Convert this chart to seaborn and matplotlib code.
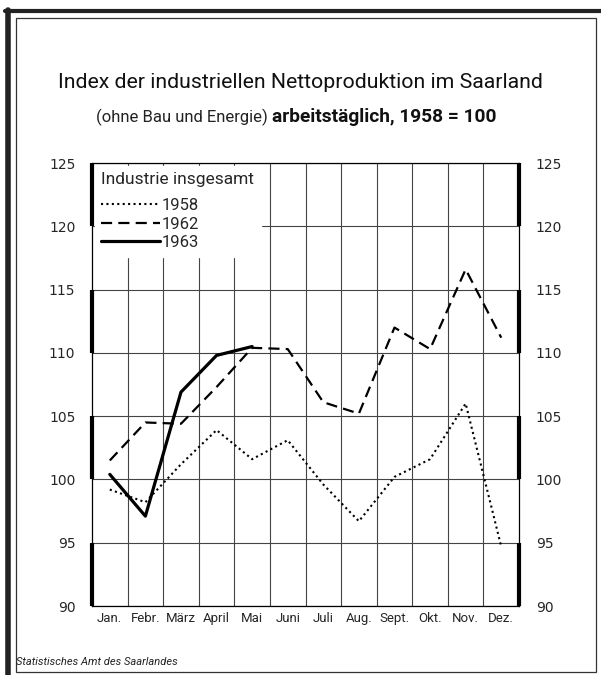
import pandas as pd
import numpy as np
import seaborn as sns
import matplotlib.pyplot as plt
from matplotlib.patches import Rectangle

months = ['Jan.', 'Febr.', 'März', 'April', 'Mai', 'Juni', 'Juli', 'Aug.', 'Sept.', 'Okt.', 'Nov.', 'Dez.']
idx_1958 = [99.2, 98.2, 101.2, 103.9, 101.6, 103.1, 99.6, 96.7, 100.2, 101.6, 106.0, 94.7]
idx_1962 = [101.5, 104.5, 104.4, 107.3, 110.4, 110.3, 106.1, 105.2, 112.0, 110.3, 116.6, 111.2]
idx_1963 = [100.4, 97.1, 106.9, 109.8, 110.5]
y_ticks = [90, 95, 100, 105, 110, 115, 120, 125]
thick_bands = [(90, 95), (100, 105), (110, 115), (120, 125)]

sns.set_theme(style='white')
narrow = ['Roboto', 'DejaVu Sans']
plt.rcParams['font.family'] = narrow

rows = []
for yr, vals in [('1958', idx_1958), ('1962', idx_1962), ('1963', idx_1963)]:
    for i, v in enumerate(vals):
        rows.append({'pos': i, 'wert': v, 'jahr': yr})
df = pd.DataFrame(rows)

fig = plt.figure(figsize=(6.01, 6.75), dpi=100)
fig.patch.set_facecolor('white')
ax = fig.add_axes([0.1531, 0.1022, 0.7105, 0.6563])

styles = {
    '1958': dict(ls=(0, (1, 1.6)), lw=1.5),
    '1962': dict(ls=(0, (5, 2.8)), lw=1.6),
    '1963': dict(ls='-', lw=2.3),
}
for yr, st in styles.items():
    sns.lineplot(data=df[df.jahr == yr], x='pos', y='wert', color='black',
                 linestyle=st['ls'], linewidth=st['lw'], label=yr, ax=ax, zorder=3)

ax.set_xlim(-0.5, 11.5)
ax.set_ylim(90, 125)
ax.set_xlabel('')
ax.set_ylabel('')
ax.set_xticks(range(12))
ax.set_xticklabels(months, fontsize=9.5)
ax.set_xticks(np.arange(0.5, 11, 1), minor=True)
ax.set_yticks(y_ticks)
ax.set_yticklabels([str(t) for t in y_ticks], fontsize=10, family='DejaVu Sans')
ax.tick_params(axis='x', which='major', length=0, pad=4)
ax.tick_params(axis='x', which='minor', length=3, width=0.8, direction='out', color='black')
ax.tick_params(axis='y', length=0, pad=12, labelright=True)
ax.grid(True, axis='x', which='minor', color='#444444', linewidth=0.8)
ax.grid(True, axis='y', which='major', color='#444444', linewidth=0.8)
for sp in ax.spines.values():
    sp.set_color('black')
    sp.set_linewidth(0.9)

# dicke Abschnitte an den Seitenachsen
tr = ax.get_yaxis_transform()
for lo, hi in thick_bands:
    for xpos in (0, 1):
        ax.plot([xpos, xpos], [lo, hi], transform=tr, color='black', lw=3,
                solid_capstyle='butt', clip_on=False, zorder=4)

leg = ax.legend(title='Industrie insgesamt', loc='upper left', frameon=True,
                fontsize=12, title_fontsize=12.5, handlelength=3.5,
                handletextpad=0.1, labelspacing=0.2, borderaxespad=0.15,
                borderpad=0.4, alignment='left', fancybox=False)
leg.get_frame().set_edgecolor('white')
leg.get_frame().set_facecolor('white')
leg.get_frame().set_alpha(1)
leg.set_zorder(5)
leg._legend_box.sep = 8

# Titel
fig.text(0.5, 0.878, 'Index der industriellen Nettoproduktion im Saarland',
         ha='center', va='center', fontsize=15.3, color='#111111')
fig.text(0.452, 0.826, '(ohne Bau und Energie) ', ha='right', va='center',
         fontsize=12, color='#222222')
fig.text(0.452, 0.826, 'arbeitstäglich, 1958 = 100', ha='left', va='center',
         fontsize=13.8, fontweight='bold', color='#111111')

fig.text(0.027, 0.019, 'Statistisches Amt des Saarlandes', ha='left', va='center',
         fontsize=8, style='italic', color='#222222')

# Rahmen
fig.patches.append(Rectangle((0.027, 0.004), 0.965, 0.97, transform=fig.transFigure,
                             fill=False, edgecolor='#333333', linewidth=0.9))
fig.lines.append(plt.Line2D([0.008, 1.0], [0.983, 0.983], transform=fig.transFigure,
                            color='#222222', linewidth=3))
fig.lines.append(plt.Line2D([0.013, 0.013], [0.0, 0.985], transform=fig.transFigure,
                            color='#222222', linewidth=4))

fig.savefig('out.png', dpi=100)
